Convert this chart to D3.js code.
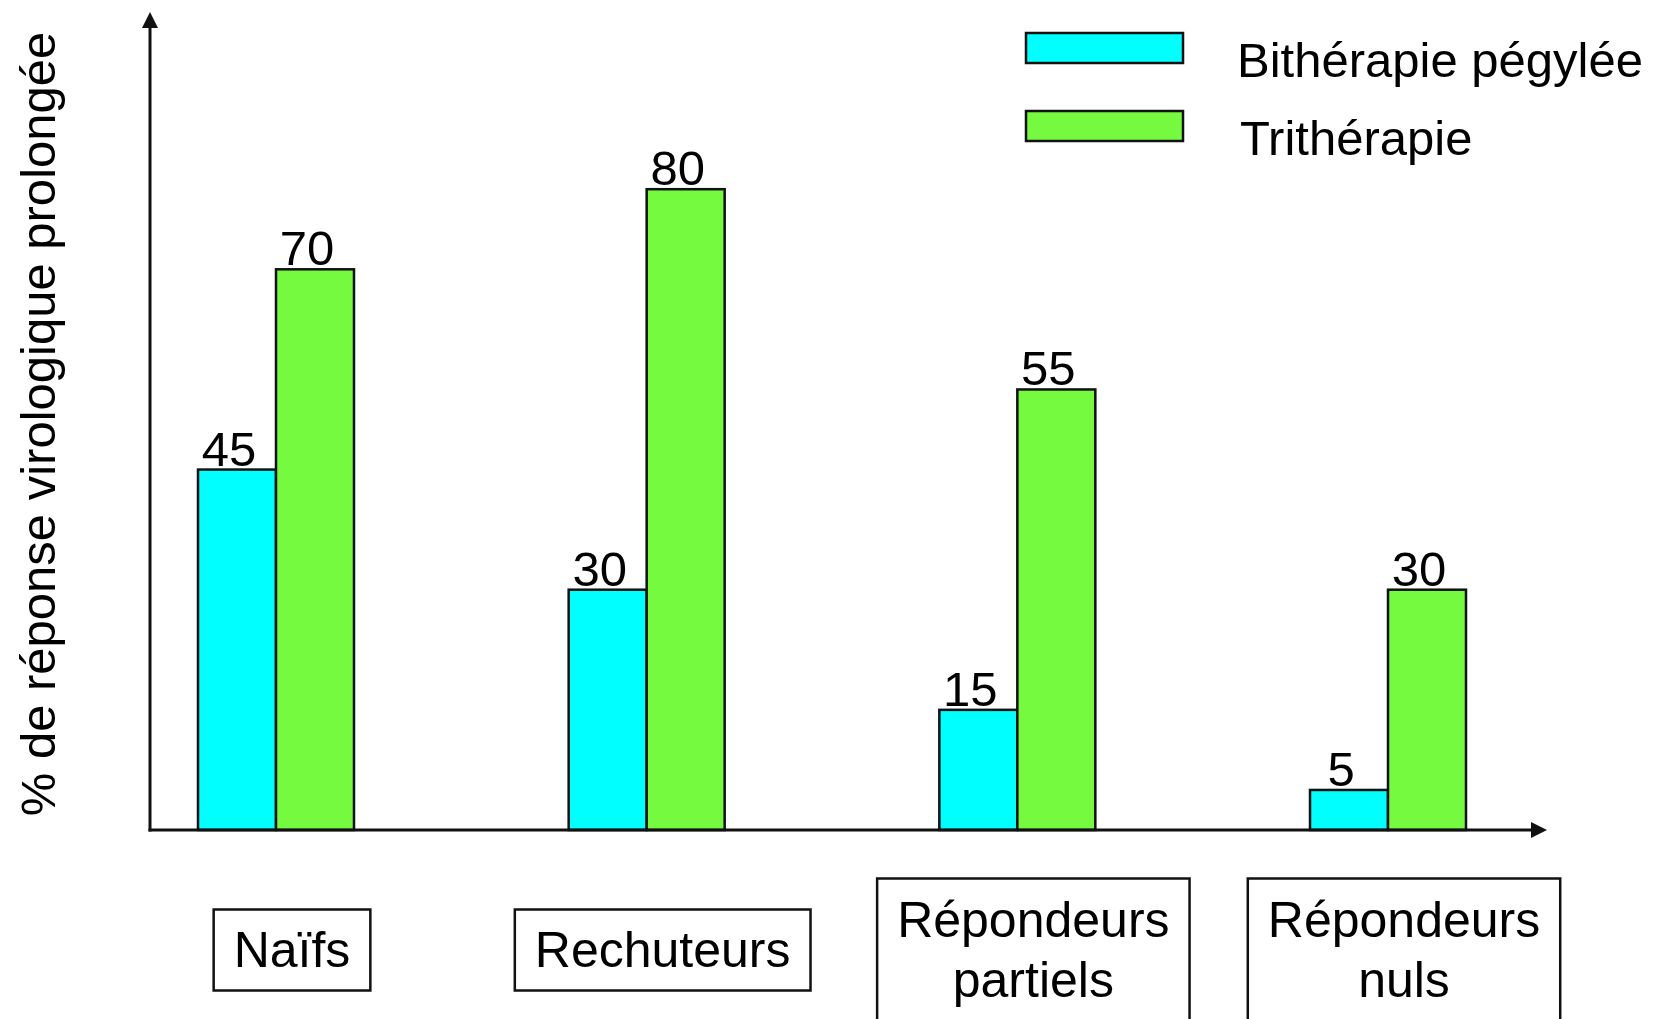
<!DOCTYPE html>
<html>
<head>
<meta charset="utf-8">
<script src="https://cdn.jsdelivr.net/npm/d3@7"></script>
<style>
  html, body { margin: 0; padding: 0; background: #fff; }
  svg { display: block; font-family: "Liberation Sans", Arial, sans-serif; }
</style>
</head>
<body>
<svg id="chart" width="1655" height="1019"></svg>
<script>
// categories, one entry per line of the boxed label
const categories = ['Naïfs', 'Rechuteurs', 'Répondeurs partiels', 'Répondeurs nuls'];
const categoryLines = [['Naïfs'], ['Rechuteurs'], ['Répondeurs', 'partiels'], ['Répondeurs', 'nuls']];
const seriesNames = ['Bithérapie pégylée', 'Trithérapie'];
const bitherapie = [45, 30, 15, 5];
const tritherapie = [70, 80, 55, 30];
const yLabel = '% de réponse virologique prolongée';

const colors = ['#00ffff', '#76fa3f'];

let svg = d3.select('#chart'),
  x0 = 150, y0 = 830;

let x = d3.scalePoint()
  .domain(categories)
  .range([276, 1388]);

let xs = d3.scaleBand()
  .domain(seriesNames)
  .range([-78, 78]);

let y = d3.scaleLinear()
  .domain([0, 100])
  .range([y0, 29]);

let rows = categories.map((c, i) => ({
  cat: c,
  lines: categoryLines[i],
  values: [bitherapie[i], tritherapie[i]]
}));

// bars
let groups = svg.append('g')
  .selectAll('g')
  .data(rows)
  .join('g')
  .attr('transform', d => `translate(${x(d.cat)},0)`);

groups.selectAll('rect')
  .data(d => d.values.map((v, j) => ({ s: seriesNames[j], v: v, j: j })))
  .join('rect')
  .attr('x', d => xs(d.s))
  .attr('width', xs.bandwidth())
  .attr('y', d => y(d.v))
  .attr('height', d => y0 - y(d.v))
  .attr('fill', d => colors[d.j])
  .attr('stroke', '#111')
  .attr('stroke-width', 2.5);

groups.selectAll('text.val')
  .data(d => d.values.map((v, j) => ({ s: seriesNames[j], v: v })))
  .join('text')
  .attr('class', 'val')
  .attr('x', d => xs(d.s) + xs.bandwidth() / 2 - 8)
  .attr('y', d => y(d.v) - 4)
  .attr('text-anchor', 'middle')
  .attr('font-size', 49)
  .attr('fill', '#000')
  .text(d => d.v);

// axes with arrow heads
let axes = svg.append('g');
axes.append('line')
  .attr('x1', x0).attr('y1', y0 + 1.5)
  .attr('x2', x0).attr('y2', 24)
  .attr('stroke', '#111').attr('stroke-width', 3);
axes.append('path')
  .attr('d', `M${x0 - 8},28 L${x0},12 L${x0 + 8},28 Z`)
  .attr('fill', '#111');
axes.append('line')
  .attr('x1', x0 - 1.5).attr('y1', y0)
  .attr('x2', 1536).attr('y2', y0)
  .attr('stroke', '#111').attr('stroke-width', 3);
axes.append('path')
  .attr('d', `M1531,${y0 - 8} L1547,${y0} L1531,${y0 + 8} Z`)
  .attr('fill', '#111');

svg.append('text')
  .attr('transform', 'translate(55,424) rotate(-90)')
  .attr('text-anchor', 'middle')
  .attr('font-size', 49)
  .text(yLabel);

// boxed category labels
let boxes = svg.append('g')
  .selectAll('g')
  .data(rows)
  .join('g')
  .attr('transform', d => `translate(${x(d.cat) + 16},950)`);

boxes.each(function(d) {
  let g = d3.select(this),
    lineH = 60,
    t = g.append('text')
      .attr('text-anchor', 'middle')
      .attr('font-size', 50);
  t.selectAll('tspan')
    .data(d.lines)
    .join('tspan')
    .attr('x', 0)
    .attr('y', (l, k) => (k - (d.lines.length - 1) / 2) * lineH + 17)
    .text(l => l);
  let w = t.node().getBBox().width + 40,
    h = 81 + (d.lines.length - 1) * 62;
  g.insert('rect', 'text')
    .attr('x', -w / 2)
    .attr('y', -h / 2)
    .attr('width', w)
    .attr('height', h)
    .attr('fill', '#fff')
    .attr('stroke', '#111')
    .attr('stroke-width', 2.5);
});

// legend
let legend = svg.append('g')
  .selectAll('g')
  .data(seriesNames)
  .join('g')
  .attr('transform', (d, i) => `translate(1026,${33 + i * 78})`);

legend.append('rect')
  .attr('width', 157)
  .attr('height', 30)
  .attr('fill', (d, i) => colors[i])
  .attr('stroke', '#111')
  .attr('stroke-width', 2.5);

legend.append('text')
  .attr('x', (d, i) => 211 + i * 3)
  .attr('y', 44)
  .attr('font-size', 49)
  .text(d => d);
</script>
</body>
</html>
